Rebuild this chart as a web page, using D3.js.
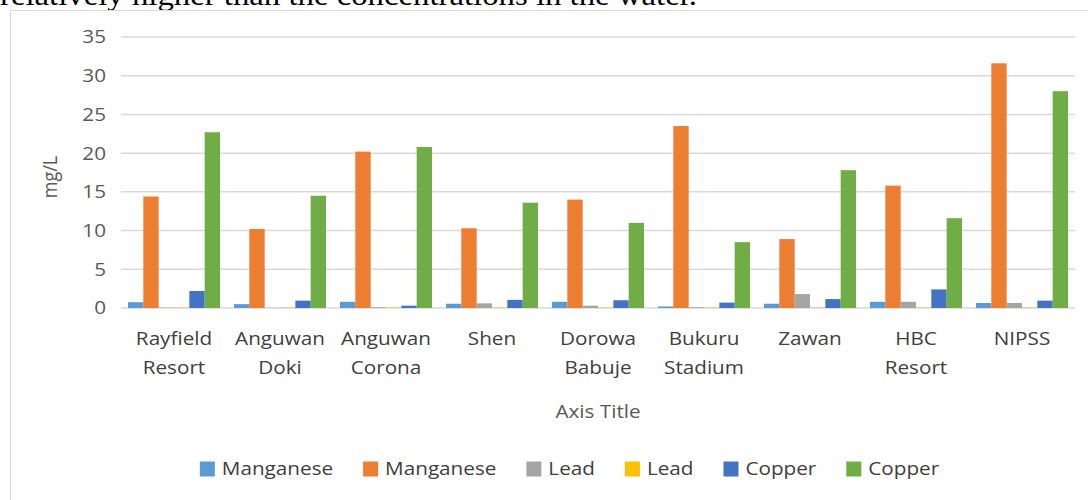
<!DOCTYPE html>
<html>
<head>
<meta charset="utf-8">
<script src="https://cdn.jsdelivr.net/npm/d3@7"></script>
<style>
  body { margin: 0; background: #fff; }
  svg { display: block; }
  .tick-label, .cat-label, .legend-label, .axis-title { font-family: "Open Sans", sans-serif; fill: #595959; }
  .cat-label, .legend-label { fill: #404040; }
</style>
</head>
<body>
<div id="chart"></div>
<script>
// Chart values
const categories = ['Rayfield Resort', 'Anguwan Doki', 'Anguwan Corona', 'Shen', 'Dorowa Babuje',
  'Bukuru Stadium', 'Zawan', 'HBC Resort', 'NIPSS'];
const seriesNames = ['Manganese', 'Manganese', 'Lead', 'Lead', 'Copper', 'Copper'];
const manganeseA = [0.75, 0.5, 0.8, 0.55, 0.8, 0.2, 0.55, 0.8, 0.65];
const manganeseB = [14.4, 10.2, 20.2, 10.3, 14.0, 23.5, 8.9, 15.8, 31.6];
const leadA = [0.05, 0.02, 0.1, 0.6, 0.3, 0.1, 1.8, 0.8, 0.65];
const leadB = [0.05, 0.05, 0.05, 0.05, 0.05, 0.05, 0.05, 0.05, 0.05];
const copperA = [2.2, 0.95, 0.3, 1.05, 1.0, 0.7, 1.15, 2.4, 0.95];
const copperB = [22.7, 14.5, 20.8, 13.6, 11.0, 8.5, 17.8, 11.6, 28.0];
const yTicks = [0, 5, 10, 15, 20, 25, 30, 35];

const seriesValues = [manganeseA, manganeseB, leadA, leadB, copperA, copperB];
const colors = ['#5B9BD5', '#ED7D31', '#A5A5A5', '#FFC000', '#4472C4', '#70AD47'];

const width = 1088;
const height = 500;
const plot = { left: 121, right: 1075, top: 37, bottom: 308 };
const stretchX = 1.15; // the source picture is a little wider than tall

const svg = d3.select('#chart').append('svg')
    .attr('width', width)
    .attr('height', height);

// place a text horizontally stretched around its anchor
function stretch(sel, x, y, rotate) {
  return sel.attr('transform', `translate(${x},${y})${rotate ? ` rotate(${rotate})` : ''} scale(${rotate ? 1 : stretchX},1)`);
}

// Line of document text above the chart, cut by the page edge
svg.append('text')
    .attr('x', 0)
    .attr('y', 5)
    .attr('textLength', 697)
    .attr('lengthAdjust', 'spacingAndGlyphs')
    .style('font-family', '"Liberation Serif", serif')
    .style('font-size', '29px')
    .style('fill', '#000')
    .text('relatively higher than the concentrations in the water.');

// Chart border
svg.append('rect')
    .attr('x', 10.5)
    .attr('y', 10.5)
    .attr('width', 1200)
    .attr('height', 600)
    .attr('fill', 'none')
    .attr('stroke', '#d9d9d9');

const y = d3.scaleLinear()
    .domain([0, 35])
    .range([plot.bottom, plot.top]);

const x0 = d3.scaleBand()
    .domain(categories)
    .range([plot.left, plot.right])
    .paddingInner(0.132)
    .paddingOuter(0.066);

const x1 = d3.scaleBand()
    .domain(d3.range(seriesValues.length))
    .range([0, x0.bandwidth()]);

// Gridlines and tick labels
svg.append('g')
  .selectAll('line')
    .data(yTicks)
  .enter().append('line')
    .attr('x1', plot.left)
    .attr('x2', plot.right)
    .attr('y1', d => y(d))
    .attr('y2', d => y(d))
    .attr('stroke', '#d9d9d9')
    .attr('stroke-width', 1.5);

svg.append('g')
  .selectAll('text')
    .data(yTicks)
  .enter().append('text')
    .attr('class', 'tick-label')
    .attr('text-anchor', 'end')
    .attr('dy', '0.36em')
    .style('font-size', '18px')
    .each(function place(d) { stretch(d3.select(this), 106, y(d)); })
    .text(d => d);

// Bars
const groups = svg.append('g')
  .selectAll('g')
    .data(categories)
  .enter().append('g')
    .attr('transform', d => `translate(${x0(d)},0)`);

groups.selectAll('rect')
    .data((d, i) => seriesValues.map((s, k) => ({ k, v: s[i] })))
  .enter().append('rect')
    .attr('x', d => x1(d.k))
    .attr('width', x1.bandwidth())
    .attr('y', d => y(d.v))
    .attr('height', d => y(0) - y(d.v))
    .attr('fill', d => colors[d.k]);

// Category labels, wrapped on spaces like the original
groups.each(function addLabel(d) {
  const lines = d.split(' ');
  const t = d3.select(this).append('text')
      .attr('class', 'cat-label')
      .attr('text-anchor', 'middle')
      .style('font-size', '18px');
  stretch(t, x0.bandwidth() / 2, 345);
  lines.forEach((line, i) => {
    t.append('tspan')
        .attr('x', 0)
        .attr('y', i * 29)
        .text(line);
  });
});

// Axis titles
stretch(svg.append('text'), 598, 418)
    .attr('class', 'axis-title')
    .attr('text-anchor', 'middle')
    .style('font-size', '18px')
    .text('Axis Title');

svg.append('text')
    .attr('class', 'axis-title')
    .attr('text-anchor', 'middle')
    .attr('transform', 'translate(57,177) rotate(-90) scale(1,1.15)')
    .style('font-size', '18px')
    .text('mg/L');

// Legend
const legend = svg.append('g');
const items = legend.selectAll('g')
    .data(seriesNames)
  .enter().append('g');

items.append('rect')
    .attr('width', 15)
    .attr('height', 15)
    .attr('y', -7.5)
    .attr('fill', (d, i) => colors[i]);

items.append('text')
    .attr('class', 'legend-label')
    .attr('dy', '0.36em')
    .style('font-size', '18px')
    .each(function place() { stretch(d3.select(this), 22, 0); })
    .text(d => d);

let cursor = 0;
items.each(function layout() {
  const w = this.querySelector('text').getComputedTextLength() * stretchX;
  d3.select(this).attr('transform', `translate(${cursor},0)`);
  cursor += 22 + w + 30;
});
const legendWidth = cursor - 30;
legend.attr('transform', `translate(${569.5 - legendWidth / 2},469)`);
</script>
</body>
</html>
